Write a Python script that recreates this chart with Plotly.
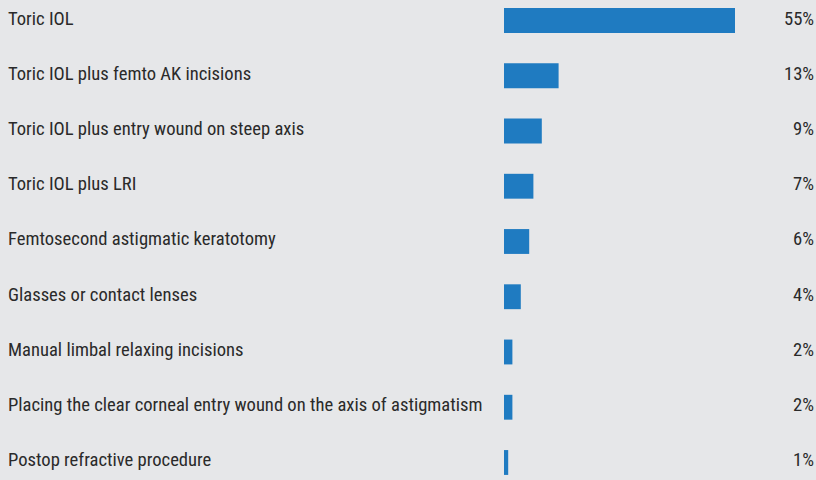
import plotly.graph_objects as go

categories = [
    "Toric IOL",
    "Toric IOL plus femto AK incisions",
    "Toric IOL plus entry wound on steep axis",
    "Toric IOL plus LRI",
    "Femtosecond astigmatic keratotomy",
    "Glasses or contact lenses",
    "Manual limbal relaxing incisions",
    "Placing the clear corneal entry wound on the axis of astigmatism",
    "Postop refractive procedure",
]
values = [55, 13, 9, 7, 6, 4, 2, 2, 1]
value_labels = [f"{v}%" for v in values]

BG = "#e6e7e9"
BAR = "#1f7bc1"
TEXT = "#2a2a2a"
FONT = "Roboto Condensed, DejaVu Sans Condensed, Arial Narrow, sans-serif"
SIZE = 18.6

rows = list(range(len(categories)))

fig = go.Figure(
    go.Bar(
        x=values,
        y=rows,
        orientation="h",
        marker=dict(color=BAR, line=dict(width=0)),
        width=0.45,
        hoverinfo="skip",
    )
)

annotations = []
for i, (name, lab) in enumerate(zip(categories, value_labels)):
    annotations.append(dict(
        x=6 / 816, xref="paper", y=i, yref="y", text=name,
        xanchor="left", yanchor="middle", showarrow=False, yshift=2,
        font=dict(family=FONT, size=SIZE, color=TEXT),
    ))
    annotations.append(dict(
        x=1, xref="paper", y=i, yref="y", text=lab,
        xanchor="right", yanchor="middle", showarrow=False, yshift=2,
        font=dict(family=FONT, size=SIZE, color=TEXT),
    ))

fig.update_layout(
    width=816, height=480,
    margin=dict(l=0, r=0, t=0, b=0),
    paper_bgcolor=BG, plot_bgcolor=BG,
    showlegend=False,
    xaxis=dict(domain=[504 / 816, 735 / 816], range=[0, 55],
               visible=False, fixedrange=True),
    yaxis=dict(range=[8.317, -0.371], visible=False, fixedrange=True),
    annotations=annotations,
)

fig.write_html("out.html")
